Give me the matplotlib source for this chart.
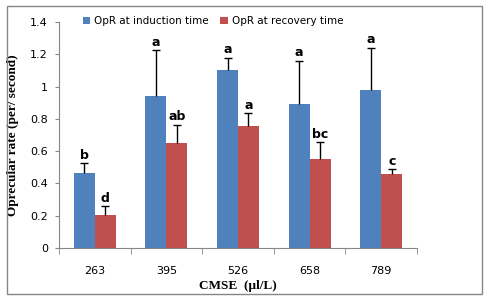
import numpy as np
import matplotlib.pyplot as plt
from matplotlib.patches import Rectangle

# concentraciones CMSE (ul/L)
categorias = ["263", "395", "526", "658", "789"]

# OpR at induction time
induccion = [0.465, 0.94, 1.105, 0.895, 0.98]
induccion_err = [0.06, 0.285, 0.075, 0.265, 0.26]
induccion_letras = ["b", "a", "a", "a", "a"]

# OpR at recovery time
recuperacion = [0.205, 0.65, 0.755, 0.55, 0.46]
recuperacion_err = [0.055, 0.115, 0.08, 0.105, 0.03]
recuperacion_letras = ["d", "ab", "a", "bc", "c"]

azul = "#4F81BD"
rojo = "#C0504D"
gris = "#868686"

fig = plt.figure(figsize=(4.88, 2.97), dpi=100)
ax = fig.add_axes([59/488, 49/297, 358/488, 226/297])

# marco exterior
fig.patches.append(Rectangle((7/488, 3/297), 475/488, 288/297, transform=fig.transFigure,
                             fill=False, edgecolor=gris, linewidth=1))

x = np.arange(len(categorias))
w = 0.293

for dx, vals, errs, letras, col, nombre in [
        (-w/2, induccion, induccion_err, induccion_letras, azul, "OpR at induction time"),
        (w/2, recuperacion, recuperacion_err, recuperacion_letras, rojo, "OpR at recovery time")]:
    xs = x + dx
    vals = np.array(vals)
    errs = np.array(errs)
    ax.bar(xs, vals, width=w, color=col, label=nombre, zorder=2)
    # solo la mitad superior del error, como en Excel
    ax.vlines(xs, vals, vals + errs, color="black", linewidth=1, zorder=3)
    ax.plot(xs, vals + errs, linestyle="none", marker="_", markersize=6,
            markeredgewidth=1, color="black", zorder=3)
    for xi, top, letra in zip(xs, vals + errs, letras):
        ax.annotate(letra, (xi, top), xytext=(0, 1), textcoords="offset points",
                    ha="center", va="bottom", fontsize=9, fontweight="bold")

ax.set_xlim(-0.5, len(categorias) - 0.5)
ax.set_ylim(0, 1.4)
ax.set_yticks(np.arange(0, 1.41, 0.2))
ax.set_yticklabels(["0", "0.2", "0.4", "0.6", "0.8", "1", "1.2", "1.4"])
ax.set_xticks(x)
ax.set_xticklabels(categorias)
ax.set_xticks(np.arange(-0.5, len(categorias), 1), minor=True)

ax.tick_params(axis="x", which="major", length=0, pad=13, labelsize=8)
ax.tick_params(axis="x", which="minor", length=4, color=gris, direction="out")
ax.tick_params(axis="y", length=3, color=gris, pad=5, labelsize=8)

for s in ["top", "right"]:
    ax.spines[s].set_visible(False)
for s in ["left", "bottom"]:
    ax.spines[s].set_color(gris)

ax.set_ylabel("Oprecular rate (per/ second)", family="Liberation Serif",
              fontweight="bold", fontsize=9.5, labelpad=8)
ax.set_xlabel("CMSE  (\u00b5l/L)", family="Liberation Serif",
              fontweight="bold", fontsize=9.5, labelpad=3)

fig.legend(loc="center", bbox_to_anchor=(213/488, 1 - 21/297), ncol=2, frameon=False,
           fontsize=7.5, handlelength=0.7, handleheight=0.7, handletextpad=0.4,
           columnspacing=1.1, borderpad=0)

fig.savefig("out.png", dpi=100)
